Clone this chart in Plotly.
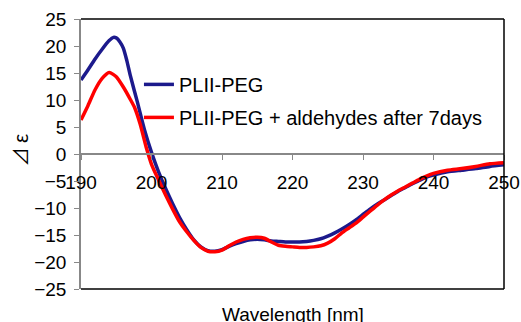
import plotly.graph_objects as go

wl_blue = [190, 191, 192, 193, 194, 194.6, 195, 195.5, 196, 196.5, 197, 198, 199, 200, 201, 202, 203, 204, 205, 206, 207, 208, 209, 210,
           211, 212, 213, 214, 215, 216, 217, 218, 219, 220, 221, 222, 223, 224, 225, 226, 227, 228, 229, 230,
           231, 232, 233, 234, 235, 236, 237, 238, 239, 240, 242, 244, 246, 248, 250]
blue = [13.7, 15.6, 17.6, 19.4, 21.0, 21.6, 21.5, 20.8, 19.6, 17.3, 14.5, 9.6, 4.5, 0.3, -3.3, -6.4, -9.2, -11.8, -14.0, -15.9, -17.2, -17.9, -18.0, -17.7,
        -17.1, -16.6, -16.2, -15.9, -15.8, -15.9, -16.1, -16.2, -16.3, -16.3, -16.3, -16.2, -16.0, -15.7, -15.2, -14.6, -13.9, -13.1, -12.2, -11.2,
        -10.2, -9.3, -8.5, -7.7, -6.9, -6.2, -5.5, -4.9, -4.3, -3.9, -3.3, -3.0, -2.7, -2.3, -2.0]

wl_red = [190, 191, 192, 193, 194, 195, 196, 197, 197.6, 198.4, 199.3, 200, 201, 202, 203, 204, 205, 206, 207, 208, 209, 210,
          211, 212, 213, 214, 215, 216, 217, 218, 219, 220, 221, 222, 223, 224, 225, 226, 227, 228, 229, 230,
          231, 232, 233, 234, 235, 236, 237, 238, 239, 240, 242, 244, 246, 248, 250]
red = [6.3, 9.0, 11.9, 14.0, 15.1, 14.3, 12.4, 10.1, 8.6, 5.5, 1.0, -1.9, -4.8, -7.6, -10.2, -12.6, -14.4, -16.0, -17.3, -18.0, -18.1, -17.8,
       -17.0, -16.3, -15.8, -15.5, -15.4, -15.6, -16.3, -16.9, -17.1, -17.2, -17.3, -17.3, -17.2, -17.0, -16.5, -15.7, -14.6, -13.7, -12.8, -11.7,
       -10.6, -9.5, -8.5, -7.6, -6.8, -6.1, -5.4, -4.7, -4.1, -3.6, -3.0, -2.7, -2.3, -1.8, -1.6]

name_blue = "PLII-PEG"
name_red = "PLII-PEG + aldehydes after 7days"
x_ticks = [190, 200, 210, 220, 230, 240, 250]
y_ticks = [25, 20, 15, 10, 5, 0, -5, -10, -15, -20, -25]

FONT = "Liberation Sans, Arial, sans-serif"
FS = 19

fig = go.Figure()
fig.add_trace(go.Scatter(x=wl_blue, y=blue, mode="lines", name=name_blue, legendgroup="a",
                         line=dict(color="#1c1a8c", width=3.5, shape="spline", smoothing=0.6)))
fig.add_trace(go.Scatter(x=wl_red, y=red, mode="lines", name=name_red, legendgroup="b",
                         line=dict(color="#ff0000", width=3.5, shape="spline", smoothing=0.6)))

fig.update_layout(
    width=521, height=322,
    margin=dict(l=81, r=17, t=19, b=33),
    paper_bgcolor="white", plot_bgcolor="white",
    font=dict(family=FONT, size=FS, color="black"),
    showlegend=True,
    legend=dict(x=0.137, y=0.83, xanchor="left", yanchor="top", bgcolor="rgba(0,0,0,0)",
                font=dict(size=20), tracegroupgap=4),
    xaxis=dict(range=[190, 250], tickvals=x_ticks, ticks="outside", ticklen=5, tickcolor="#888888",
               showline=True, linecolor="#888888", linewidth=1.5, showgrid=False, zeroline=False,
               anchor="free", position=0.5, automargin=False, ticklabelstandoff=6),
    yaxis=dict(range=[-25, 25], tickvals=y_ticks, ticks="outside", ticklen=5, tickcolor="#888888",
               showline=True, linecolor="#888888", linewidth=1.5, showgrid=False, zeroline=False,
               automargin=False, ticklabelstandoff=4),
    shapes=[
        dict(type="line", xref="paper", yref="paper", x0=0, x1=1, y0=1, y1=1, line=dict(color="black", width=1.5)),
        dict(type="line", xref="paper", yref="paper", x0=1, x1=1, y0=0, y1=1, line=dict(color="black", width=1.5)),
        dict(type="line", xref="paper", yref="paper", x0=0, x1=1, y0=0, y1=0, line=dict(color="black", width=1.5)),
    ],
    annotations=[
        dict(text="Wavelength [nm]", xref="paper", yref="paper", x=0.5, y=-0.095, xanchor="center", yanchor="middle",
             showarrow=False, font=dict(size=FS)),
        dict(text="⊿ ε", xref="paper", yref="paper", x=-0.145, y=0.515, xanchor="center", yanchor="middle",
             textangle=-90, showarrow=False, font=dict(size=FS, family="Noto Sans CJK JP, sans-serif")),
    ],
)

fig.write_html("out.html",
               config={"displayModeBar": False},
               post_script="document.body.style.margin='0';document.body.style.overflow='hidden';")
